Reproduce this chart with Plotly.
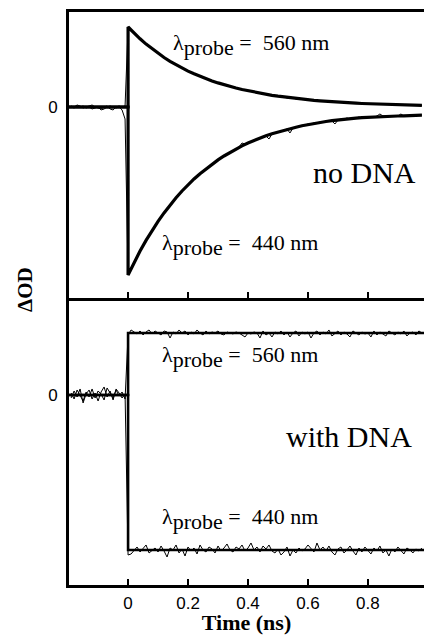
import numpy as np
import plotly.graph_objects as go

# ---------------- data ----------------
X_RANGE = [-0.197, 0.987]
X_TICKS = [0, 0.2, 0.4, 0.6, 0.8]
X_TICK_TEXT = ["0", "0.2", "0.4", "0.6", "0.8"]
BASELINE = 0.0
DATA_STEP = 0.01   # ns between samples
FIT_STEP = 0.02    # ns between fit points

# --- no DNA panel ---
NODNA_560_PRE = [0.01, 0.00, 0.02, 0.01, -0.01, 0.00, 0.01, 0.02, 0.00, -0.01,
                 -0.02, 0.00, 0.01, -0.02, -0.03, 0.00, 0.01, 0.00, 0.01]
NODNA_560_POST = [0.79, 0.76, 0.74, 0.71, 0.68, 0.66, 0.62, 0.61, 0.58, 0.56,
                  0.54, 0.52, 0.49, 0.48, 0.46, 0.44, 0.42, 0.41, 0.39, 0.37,
                  0.36, 0.35, 0.33, 0.32, 0.31, 0.29, 0.28, 0.27, 0.26, 0.25,
                  0.24, 0.23, 0.22, 0.21, 0.21, 0.20, 0.19, 0.18, 0.18, 0.17,
                  0.16, 0.16, 0.15, 0.14, 0.14, 0.13, 0.13, 0.12, 0.12, 0.11,
                  0.11, 0.10, 0.10, 0.09, 0.09, 0.09, 0.08, 0.08, 0.08, 0.075,
                  0.07, 0.07, 0.065, 0.065, 0.06, 0.06, 0.055, 0.055, 0.05, 0.05,
                  0.05, 0.045, 0.045, 0.04, 0.045, 0.04, 0.04, 0.035, 0.035, 0.035,
                  0.03, 0.035, 0.03, 0.03, 0.025, 0.03, 0.025, 0.025, 0.025, 0.02,
                  0.02, 0.025, 0.02, 0.02, 0.02, 0.015, 0.02, 0.015, 0.015]
NODNA_440_PRE = [0.00, -0.01, 0.01, 0.00, 0.01, -0.01, 0.00, -0.02, -0.01, 0.00,
                 -0.03, -0.02, 0.00, 0.01, 0.00, -0.01, 0.00, -0.03, -0.12]
NODNA_440_POST = [-1.66, -1.61, -1.55, -1.50, -1.43, -1.39, -1.33, -1.29, -1.23, -1.19,
                  -1.14, -1.10, -1.06, -1.01, -0.98, -0.94, -0.91, -0.87, -0.84, -0.80,
                  -0.78, -0.74, -0.72, -0.70, -0.66, -0.64, -0.62, -0.59, -0.57, -0.55,
                  -0.52, -0.51, -0.49, -0.47, -0.45, -0.44, -0.42, -0.40, -0.36, -0.37,
                  -0.36, -0.35, -0.33, -0.32, -0.31, -0.30, -0.29, -0.32, -0.27, -0.26,
                  -0.25, -0.24, -0.23, -0.22, -0.26, -0.21, -0.20, -0.19, -0.19, -0.18,
                  -0.17, -0.17, -0.16, -0.16, -0.15, -0.15, -0.14, -0.14, -0.14, -0.17,
                  -0.13, -0.12, -0.12, -0.11, -0.12, -0.11, -0.11, -0.10, -0.11, -0.10,
                  -0.10, -0.10, -0.10, -0.09, -0.07, -0.09, -0.09, -0.095, -0.09, -0.09,
                  -0.09, -0.07, -0.09, -0.085, -0.09, -0.08, -0.085, -0.08, -0.08]
NODNA_560_FIT = [0.800, 0.738, 0.682, 0.629, 0.581, 0.536, 0.495, 0.457, 0.422, 0.389,
                 0.359, 0.332, 0.306, 0.283, 0.261, 0.241, 0.222, 0.205, 0.190, 0.175,
                 0.162, 0.149, 0.138, 0.127, 0.117, 0.108, 0.100, 0.092, 0.085, 0.079,
                 0.073, 0.067, 0.062, 0.057, 0.053, 0.049, 0.045, 0.041, 0.038, 0.035,
                 0.033, 0.030, 0.028, 0.026, 0.024, 0.022, 0.020, 0.019, 0.017, 0.016]
NODNA_440_FIT = [-1.680, -1.556, -1.440, -1.334, -1.235, -1.144, -1.059, -0.980, -0.908, -0.840,
                 -0.778, -0.720, -0.667, -0.618, -0.572, -0.529, -0.490, -0.454, -0.420, -0.389,
                 -0.360, -0.334, -0.309, -0.287, -0.267, -0.249, -0.232, -0.216, -0.202, -0.188,
                 -0.176, -0.165, -0.155, -0.145, -0.137, -0.129, -0.122, -0.116, -0.111, -0.107,
                 -0.103, -0.099, -0.096, -0.094, -0.092, -0.090, -0.088, -0.086, -0.084, -0.082]

# --- with DNA panel ---
DNA_560_PRE = [0.02, -0.04, 0.05, 0.00, -0.06, 0.03, -0.02, 0.06, -0.03, 0.04,
               0.01, -0.05, 0.07, 0.02, -0.03, 0.05, -0.01, 0.03, -0.04]
DNA_560_POST = [0.60, 0.65, 0.63, 0.61, 0.64, 0.60, 0.63, 0.65, 0.61, 0.64,
                0.62, 0.60, 0.64, 0.63, 0.57, 0.63, 0.61, 0.65, 0.62, 0.64,
                0.60, 0.63, 0.61, 0.65, 0.62, 0.60, 0.64, 0.61, 0.63, 0.62,
                0.64, 0.61, 0.60, 0.63, 0.62, 0.61, 0.63, 0.62, 0.60, 0.58,
                0.62, 0.61, 0.63, 0.62, 0.57, 0.64, 0.60, 0.62, 0.58, 0.63,
                0.61, 0.64, 0.60, 0.63, 0.58, 0.62, 0.64, 0.59, 0.63, 0.61,
                0.63, 0.57, 0.62, 0.64, 0.60, 0.63, 0.61, 0.65, 0.59, 0.62,
                0.64, 0.60, 0.63, 0.61, 0.58, 0.64, 0.62, 0.60, 0.63, 0.61,
                0.62, 0.58, 0.64, 0.60, 0.63, 0.61, 0.59, 0.64, 0.62, 0.60,
                0.63, 0.61, 0.64, 0.59, 0.62, 0.63, 0.60, 0.64, 0.62]
DNA_440_PRE = [-0.03, 0.04, -0.02, 0.06, -0.08, 0.01, 0.05, -0.04, 0.02, -0.06,
               0.03, 0.08, -0.02, 0.04, -0.05, 0.06, 0.02, -0.03, 0.01]
DNA_440_POST = [-1.60, -1.59, -1.56, -1.52, -1.57, -1.54, -1.50, -1.58, -1.55, -1.53,
                -1.57, -1.51, -1.56, -1.62, -1.53, -1.55, -1.50, -1.58, -1.54, -1.61,
                -1.52, -1.56, -1.53, -1.59, -1.50, -1.55, -1.57, -1.52, -1.54, -1.58,
                -1.51, -1.56, -1.53, -1.49, -1.55, -1.57, -1.52, -1.54, -1.50, -1.56,
                -1.53, -1.48, -1.55, -1.52, -1.57, -1.51, -1.54, -1.50, -1.56, -1.58,
                -1.54, -1.60, -1.57, -1.52, -1.61, -1.55, -1.58, -1.53, -1.56, -1.54,
                -1.50, -1.53, -1.57, -1.48, -1.55, -1.52, -1.56, -1.51, -1.57, -1.60,
                -1.54, -1.52, -1.58, -1.55, -1.51, -1.56, -1.60, -1.53, -1.57, -1.52,
                -1.55, -1.59, -1.53, -1.56, -1.51, -1.58, -1.55, -1.61, -1.54, -1.57,
                -1.52, -1.56, -1.59, -1.53, -1.55, -1.58, -1.54, -1.56, -1.53]
DNA_560_LEVEL = 0.62
DNA_440_LEVEL = -1.55

Y_RANGE_TOP = [-1.91, 0.95]
Y_RANGE_BOTTOM = [-1.90, 0.97]


def series(pre, post):
    t_pre = np.round(-DATA_STEP * np.arange(len(pre), 0, -1), 4)
    t_post = np.round(DATA_STEP * np.arange(len(post)), 4)
    return list(t_pre) + list(t_post), list(pre) + list(post)


def fit_curve(vals):
    t = list(np.round(FIT_STEP * np.arange(len(vals)), 4))
    return [X_RANGE[0], 0.0] + t, [BASELINE, BASELINE] + list(vals)


def flat_fit(level):
    return [X_RANGE[0], 0.0, 0.0, X_RANGE[1]], [BASELINE, BASELINE, level, level]


fig = go.Figure()
THIN = dict(color="black", width=1)
THICK = dict(color="black", width=3.2)

# upper panel (no DNA)
for pre, post in [(NODNA_560_PRE, NODNA_560_POST), (NODNA_440_PRE, NODNA_440_POST)]:
    x, y = series(pre, post)
    fig.add_trace(go.Scatter(x=x, y=y, mode="lines", line=THIN, xaxis="x2", yaxis="y2",
                             showlegend=False, hoverinfo="skip"))
for vals in [NODNA_560_FIT, NODNA_440_FIT]:
    x, y = fit_curve(vals)
    fig.add_trace(go.Scatter(x=x, y=y, mode="lines", line=THICK,
                             xaxis="x2", yaxis="y2", showlegend=False, hoverinfo="skip"))

# lower panel (with DNA)
for pre, post in [(DNA_560_PRE, DNA_560_POST), (DNA_440_PRE, DNA_440_POST)]:
    x, y = series(pre, post)
    fig.add_trace(go.Scatter(x=x, y=y, mode="lines", line=THIN, xaxis="x", yaxis="y",
                             showlegend=False, hoverinfo="skip"))
for level in [DNA_560_LEVEL, DNA_440_LEVEL]:
    x, y = flat_fit(level)
    fig.add_trace(go.Scatter(x=x, y=y, mode="lines", line=dict(color="black", width=2.6),
                             xaxis="x", yaxis="y", showlegend=False, hoverinfo="skip"))

SERIF = "Liberation Serif"
SANS = "Liberation Sans"
DIV = 0.5009
AX_W = 2.6

fig.update_layout(
    width=424, height=635,
    margin=dict(l=69, r=0, t=12, b=50, autoexpand=False),
    paper_bgcolor="white", plot_bgcolor="white",
    xaxis=dict(range=X_RANGE, anchor="y", domain=[0, 1], showline=True, linecolor="black",
               linewidth=AX_W, ticks="inside", ticklen=6, tickwidth=2, tickcolor="black",
               tickvals=X_TICKS, ticktext=X_TICK_TEXT, showgrid=False, zeroline=False,
               tickfont=dict(family=SANS, size=17, color="black"), ticklabelstandoff=1,
               title=dict(text="<b>Time (ns)</b>", font=dict(family=SERIF, size=22, color="black"),
                          standoff=2)),
    xaxis2=dict(range=X_RANGE, anchor="y2", domain=[0, 1], matches="x", showline=True,
                linecolor="black", linewidth=AX_W, mirror=True, ticks="inside", ticklen=6,
                tickwidth=2, tickcolor="black", tickvals=X_TICKS, showticklabels=False,
                showgrid=False, zeroline=False),
    yaxis=dict(domain=[0, DIV], range=Y_RANGE_BOTTOM, showline=True, linecolor="black",
               linewidth=AX_W, ticks="", tickvals=[0], ticktext=["0"], showgrid=False,
               zeroline=False, tickfont=dict(family=SANS, size=17, color="black"),
               ticklabelstandoff=5),
    yaxis2=dict(domain=[DIV, 1], range=Y_RANGE_TOP, showline=True, linecolor="black",
                linewidth=AX_W, ticks="", tickvals=[0], ticktext=["0"], showgrid=False,
                zeroline=False, tickfont=dict(family=SANS, size=17, color="black"),
                ticklabelstandoff=5),
)

LAB = dict(family=SERIF, size=22, color="black")
BIG = dict(family=SERIF, size=30, color="black")
SUB = "λ<sub><span style='font-size:22px'>probe</span></sub> =&nbsp; "
ann = [
    dict(x=0.143, y=0.62, xref="x2", yref="y2", text=SUB + "560 nm",
         xanchor="left", yanchor="middle", showarrow=False, font=LAB),
    dict(x=0.106, y=-1.38, xref="x2", yref="y2", text=SUB + "440 nm",
         xanchor="left", yanchor="middle", showarrow=False, font=LAB),
    dict(x=0.787, y=-0.66, xref="x2", yref="y2", text="no DNA",
         xanchor="center", yanchor="middle", showarrow=False, font=BIG),
    dict(x=0.106, y=0.38, xref="x", yref="y", text=SUB + "560 nm",
         xanchor="left", yanchor="middle", showarrow=False, font=LAB),
    dict(x=0.737, y=-0.42, xref="x", yref="y", text="with DNA",
         xanchor="center", yanchor="middle", showarrow=False, font=BIG),
    dict(x=0.106, y=-1.24, xref="x", yref="y", text=SUB + "440 nm",
         xanchor="left", yanchor="middle", showarrow=False, font=LAB),
    dict(x=0, y=0.515, xref="paper", yref="paper", xshift=-44, text="<b>ΔOD</b>",
         textangle=-90, showarrow=False, font=dict(family=SERIF, size=21, color="black"),
         xanchor="center", yanchor="middle"),
]
fig.update_layout(annotations=ann)

fig.write_html("out.html", config={"displayModeBar": False},
               post_script="document.body.style.margin='0';document.body.style.overflow='hidden';")
